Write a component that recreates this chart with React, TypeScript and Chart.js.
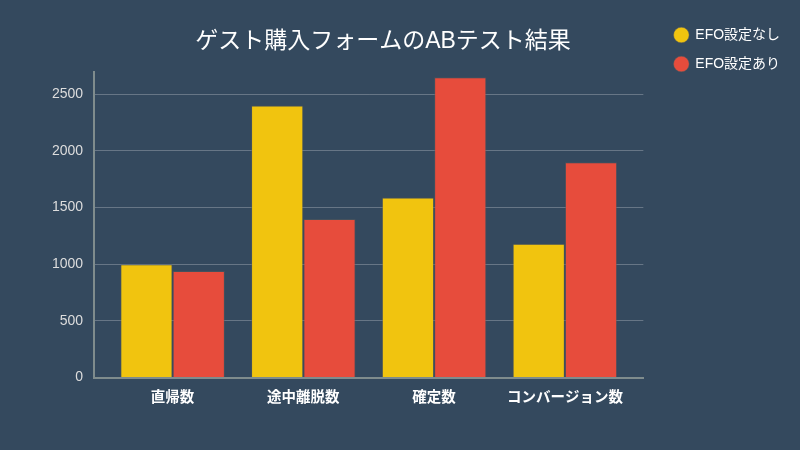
import React, { useEffect, useRef } from "react";
import { Chart, registerables } from "chart.js";

Chart.register(...registerables);

const TITLE = "ゲスト購入フォームのABテスト結果";
const categories = ["直帰数", "途中離脱数", "確定数", "コンバージョン数"];
const seriesNames = ["EFO設定なし", "EFO設定あり"];
const withoutEFO = [1000, 2400, 1590, 1180];
const withEFO = [940, 1400, 2650, 1900];
const seriesColors = ["#f1c40f", "#e74c3c"];
const yTicks = [0, 500, 1000, 1500, 2000, 2500];
const yMax = 2700;

const FONT = "'Liberation Sans', 'Noto Sans CJK JP', sans-serif";
const BG = "#34495e";

const toPoints = (vals: number[]) => vals.map((v, i) => ({ x: i, y: v }));

const titleShift = {
  id: "titleShift",
  beforeDraw(chart: any) {
    const t = chart.titleBlock;
    if (t) {
      t.left = 0;
      t.right = chart.width - 34;
    }
  },
};

const bgPlugin = {
  id: "bgFill",
  beforeDraw(chart: any) {
    const ctx = chart.ctx;
    ctx.save();
    ctx.fillStyle = BG;
    ctx.fillRect(0, 0, chart.width, chart.height);
    ctx.restore();
  },
};

export default function App() {
  const ref = useRef<HTMLCanvasElement | null>(null);
  useEffect(() => {
    document.body.style.margin = "0";
    document.body.style.background = BG;
    const canvas = ref.current;
    if (!canvas) return;
    const chart = new Chart(canvas, {
      type: "bar",
      data: {
        datasets: [
          {
            label: seriesNames[0],
            data: toPoints(withoutEFO),
            backgroundColor: seriesColors[0],
            borderColor: "rgba(90,90,90,0.45)",
            borderWidth: 1,
            categoryPercentage: 0.8,
            barPercentage: 1,
          },
          {
            label: seriesNames[1],
            data: toPoints(withEFO),
            backgroundColor: seriesColors[1],
            borderColor: "rgba(90,90,90,0.45)",
            borderWidth: 1,
            categoryPercentage: 0.8,
            barPercentage: 1,
          },
        ],
      },
      options: {
        responsive: false,
        animation: false,
        layout: { padding: { top: 13, left: 41, right: 17, bottom: 39 } },
        plugins: {
          title: {
            display: true,
            text: TITLE,
            color: "#ffffff",
            font: { family: FONT, size: 23, weight: "normal" },
            padding: { top: 15, bottom: 16 },
          },
          legend: {
            position: "right",
            align: "start",
            labels: {
              usePointStyle: true,
              pointStyle: "circle",
              boxWidth: 14,
              boxHeight: 11,
              padding: 15,
              color: "#ffffff",
              font: { family: FONT, size: 14 },
            },
          },
          tooltip: { enabled: false },
        },
        scales: {
          x: {
            type: "linear",
            min: -0.6,
            max: categories.length - 1 + 0.6,
            offset: false,
            grid: { display: false },
            border: { display: true, color: "#7f8c8d", width: 2 },
            afterBuildTicks: (scale: any) => {
              scale.ticks = categories.map((_, i) => ({ value: i }));
            },
            ticks: {
              color: "#ffffff",
              padding: 4,
              autoSkip: false,
              maxRotation: 0,
              font: { family: FONT, size: 14.5, weight: "bold" },
              callback: (v: any) => categories[Math.round(Number(v))] ?? "",
            },
          },
          y: {
            min: 0,
            max: yMax,
            grid: { color: "rgba(255,255,255,0.25)", drawTicks: false, lineWidth: 1 },
            border: { display: true, color: "#7f8c8d", width: 2 },
            afterBuildTicks: (scale: any) => {
              scale.ticks = yTicks.map((v) => ({ value: v }));
            },
            ticks: {
              color: "#dddddd",
              padding: 11,
              font: { family: FONT, size: 14 },
              callback: (v: any) => String(v),
            },
          },
          spacer: {
            position: "right",
            display: true,
            grid: { display: false },
            border: { display: false },
            ticks: { display: false },
            afterFit: (scale: any) => {
              scale.width = 16;
            },
          },
        },
      },
      plugins: [bgPlugin, titleShift],
    } as any);
    return () => chart.destroy();
  }, []);
  return (
    <div style={{ width: 800, height: 450, background: BG }}>
      <canvas ref={ref} width={800} height={450} style={{ display: "block" }} />
    </div>
  );
}
